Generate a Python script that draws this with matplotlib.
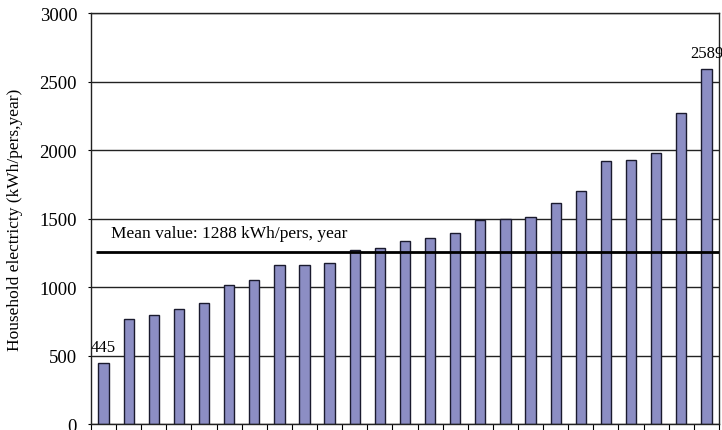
import numpy as np
import matplotlib
matplotlib.use("Agg")
import matplotlib.pyplot as plt

# household electricity per person, sorted (kWh/pers,year)
values = [445, 766, 795, 841, 884, 1014, 1049, 1159, 1162, 1174,
          1267, 1284, 1335, 1359, 1395, 1492, 1500, 1510, 1612, 1699,
          1922, 1929, 1978, 2267, 2589]
mean_line = 1255
mean_text = "Mean value: 1288 kWh/pers, year"
yticks = [0, 500, 1000, 1500, 2000, 2500, 3000]

plt.rcParams['font.family'] = ['Liberation Serif', 'DejaVu Serif']

fig = plt.figure(figsize=(7.22, 4.31), dpi=100)
ax = fig.add_axes([0.126, 0.0139, 0.8698, 0.9536])

x = np.arange(len(values))
ax.set_axisbelow(True)
ax.yaxis.grid(True, color='#222222', linewidth=1.0)
ax.bar(x, values, width=0.41, color='#8C8EC4', edgecolor='#1a1a2e', linewidth=1.0, zorder=2)

ax.hlines(mean_line, -0.3, len(values) - 0.5, color='black', linewidth=2.0, zorder=3)
ax.text(0.3, mean_line + 80, mean_text, fontsize=12.5, ha='left', va='bottom')

# labels on first and last bar
ax.text(x[0], values[0] + 60, str(values[0]), fontsize=12, ha='center', va='bottom')
ax.text(x[-1], values[-1] + 60, str(values[-1]), fontsize=12, ha='center', va='bottom', clip_on=False)

ax.set_xlim(-0.5, len(values) - 0.5)
ax.set_ylim(0, 3000)
ax.set_yticks(yticks)
ax.set_yticklabels([str(t) for t in yticks], fontsize=13.5)
ax.set_xticks(np.arange(len(values) + 1) - 0.5)
ax.set_xticklabels([])
ax.tick_params(axis='x', length=5, direction='out', color='black')
ax.tick_params(axis='y', length=2, direction='out', pad=8)
ax.set_ylabel("Household electricty (kWh/pers,year)", fontsize=12.5, labelpad=12)

for s in ax.spines.values():
    s.set_color('#222222')
    s.set_linewidth(1.0)

fig.savefig("out.png", dpi=100)
